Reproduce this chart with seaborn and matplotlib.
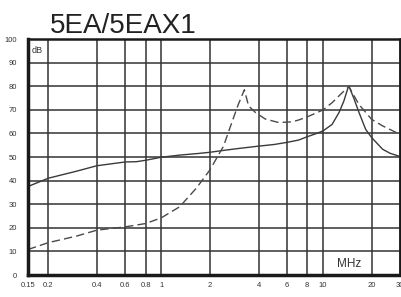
import matplotlib
matplotlib.use("Agg")
import matplotlib.pyplot as plt
import seaborn as sns
import pandas as pd

# Data
solid_f = [0.15, 0.2, 0.3, 0.4, 0.6, 0.7, 0.8, 1, 1.3, 1.7, 2, 2.43, 3, 4, 5, 6, 7.1, 8, 9, 10, 11.4, 12.6, 13.5, 14.3, 14.5, 14.8, 15.6, 16.7, 18.4, 20, 23.4, 26, 30]
solid_db = [37.5, 41, 44, 46.3, 47.9, 48, 48.6, 49.9, 50.8, 51.5, 52, 52.8, 53.6, 54.6, 55.3, 56.2, 57.2, 58.6, 59.8, 61, 63.8, 68.9, 73.8, 79.3, 80, 78.5, 74.6, 69, 61.7, 58.3, 53.3, 51.6, 50.2]

dashed_f = [0.15, 0.2, 0.3, 0.4, 0.6, 0.8, 1, 1.3, 1.65, 2, 2.43, 2.73, 3.0, 3.27, 3.47, 3.82, 4.4, 5.33, 6.45, 7.1, 8, 10, 11.4, 13.2, 14.5, 16.7, 20, 23.4, 30]
dashed_db = [10.8, 13.7, 16.5, 19, 20.4, 21.8, 24.2, 28.9, 36.8, 44.5, 54.6, 64.5, 72.3, 78.5, 71.7, 68.9, 66.1, 64.6, 64.9, 65.7, 67, 69.9, 73, 77.3, 79.8, 72.3, 66, 63.2, 59.6]

x_ticks = [0.15, 0.2, 0.4, 0.6, 0.8, 1, 2, 4, 6, 8, 10, 20, 30]
x_labels = ["0.15", "0.2", "0.4", "0.6", "0.8", "1", "2", "4", "6", "8", "10", "20", "30"]
y_ticks = [0, 10, 20, 30, 40, 50, 60, 70, 80, 90, 100]

title = "5EA/5EAX1"

sns.set_style("white")
plt.rcParams['font.family'] = ['Liberation Sans', 'DejaVu Sans']

fig = plt.figure(figsize=(4.01, 2.97), dpi=100)
ax = fig.add_axes([28 / 401, 1 - 275 / 297, 372 / 401, 236 / 297])

df_s = pd.DataFrame({"f": solid_f, "db": solid_db})
df_d = pd.DataFrame({"f": dashed_f, "db": dashed_db})

sns.lineplot(data=df_s, x="f", y="db", ax=ax, color="#3a3a3a", linewidth=1.0, sort=False)
sns.lineplot(data=df_d, x="f", y="db", ax=ax, color="#4a4a4a", linewidth=1.0, sort=False,
             linestyle=(0, (6, 3)))

ax.set_xscale("log")
ax.set_xlim(0.15, 30)
ax.set_ylim(0, 100)
ax.set_xticks(x_ticks)
ax.set_xticklabels(x_labels)
ax.minorticks_off()
ax.set_yticks(y_ticks)
ax.tick_params(axis="both", length=0, labelsize=5.5, colors="#333333")
ax.tick_params(axis="y", pad=8)
ax.tick_params(axis="x", pad=5)
ax.grid(True, color="#333333", linewidth=1.1)
ax.set_axisbelow(True)
ax.set_xlabel("")
ax.set_ylabel("")
for side in ["left", "bottom", "top", "right"]:
    ax.spines[side].set_visible(True)
    ax.spines[side].set_color("#1a1a1a")
ax.spines["left"].set_linewidth(2.5)
ax.spines["bottom"].set_linewidth(2.5)
ax.spines["top"].set_linewidth(1.8)
ax.spines["right"].set_linewidth(1.8)

ax.text(0.158, 95.3, "dB", fontsize=6.5, color="#333333", va="center", ha="left")
ax.text(14.5, 4.7, "MHz", fontsize=8.5, color="#333333", va="center", ha="center")

fig.text(50 / 401, 1 - 33 / 297, title, fontsize=20, color="#222222", va="baseline", ha="left")

fig.savefig("out.png", dpi=100)
